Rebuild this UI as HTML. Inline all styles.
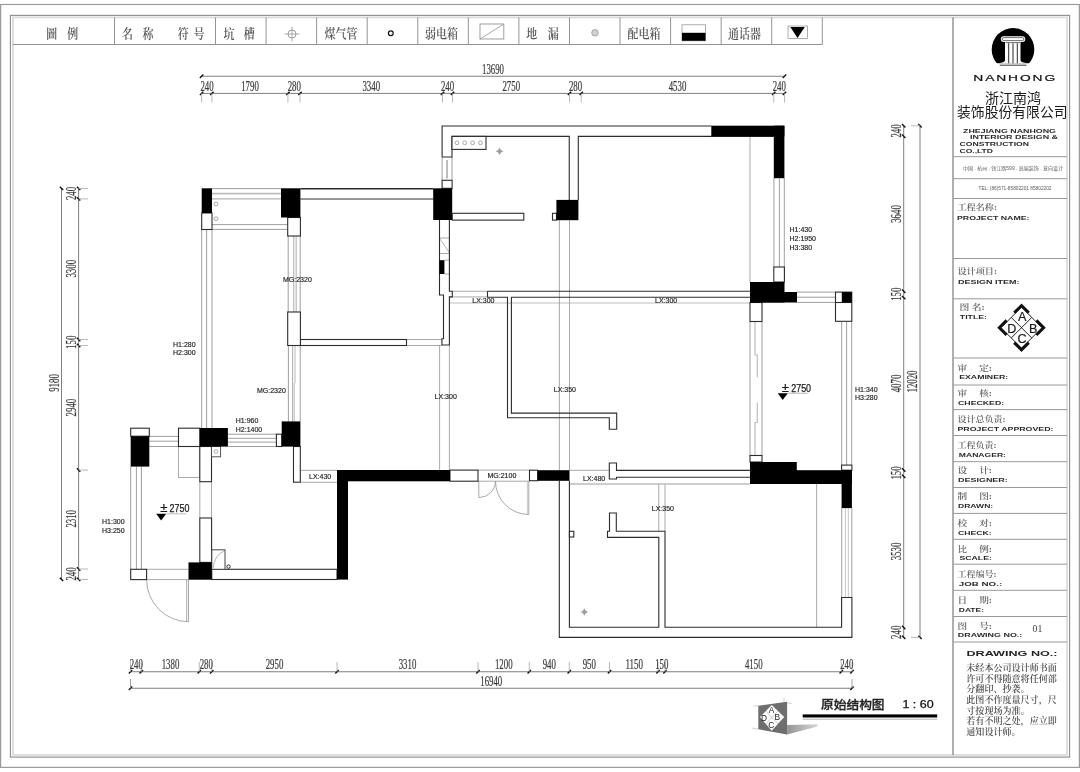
<!DOCTYPE html>
<html lang="zh-CN"><head><meta charset="utf-8"><title>原始结构图</title>
<style>
html,body{margin:0;padding:0;background:#fff}
svg{display:block;will-change:transform}
text{font-family:"Liberation Sans","Noto Sans CJK SC",sans-serif}
.dm{font-family:"Liberation Serif",serif;font-size:13.9px;fill:#3a3a3a;stroke:#3a3a3a;stroke-width:0.22px}
.lb{font-size:7px;fill:#1a1a1a;stroke:#1a1a1a;stroke-width:0.15px}
.lv{font-size:10.5px;fill:#1a1a1a;stroke:#1a1a1a;stroke-width:0.25px}
.pm{font-size:12px;fill:#1a1a1a;stroke:#1a1a1a;stroke-width:0.2px}
.lg{font-family:"Liberation Serif","Noto Serif CJK SC",serif;font-size:12.6px;font-weight:600;fill:#555}
.tc{font-family:"Liberation Serif","Noto Serif CJK SC",serif;font-size:8.2px;font-weight:600;fill:#626262}
.pc{font-family:"Liberation Serif","Noto Serif CJK SC",serif;font-size:9px;font-weight:600;fill:#4c4c4c}
.en{font-size:5.4px;font-weight:bold;fill:#2a2a2a}
.en2{font-size:8.1px;font-weight:bold;fill:#222}
.nh{font-size:9.2px;fill:#111;stroke:#111;stroke-width:0.2px}
.cn14{font-size:14px;fill:#1a1a1a}
.tiny{font-size:4.5px;fill:#5a5a5a}
.n01{font-family:"Liberation Serif",serif;font-size:10.4px;fill:#444}
.abcd{font-size:12.6px;fill:#1a1a1a;stroke:#1a1a1a;stroke-width:0.2px}
.ab2{font-size:8.4px;fill:#222}
.ttl{font-size:11.8px;fill:#222;font-weight:500;stroke:#222;stroke-width:0.3px}
.sc{font-size:10.2px;fill:#111;stroke:#111;stroke-width:0.25px}
</style></head>
<body>
<svg width="1080" height="772" viewBox="0 0 1080 772">
<rect x="0" y="0" width="1080" height="772" fill="#fff"/>
<rect x="0.6" y="4.5" width="1078.8" height="762.9" fill="none" stroke="#9c9c9c" stroke-width="1.2"/>
<rect x="10.4" y="15.4" width="1059.2" height="741.7" fill="none" stroke="#8c8c8c" stroke-width="1.1"/>
<rect x="13" y="17.4" width="1054" height="737.6" fill="none" stroke="#d8d8d8" stroke-width="1.6"/>
<line x1="13" y1="44.5" x2="822.3" y2="44.5" stroke="#949494" stroke-width="1"/>
<line x1="114.5" y1="17.4" x2="114.5" y2="44.5" stroke="#949494" stroke-width="1"/>
<line x1="215.5" y1="17.4" x2="215.5" y2="44.5" stroke="#949494" stroke-width="1"/>
<line x1="266.07" y1="17.4" x2="266.07" y2="44.5" stroke="#949494" stroke-width="1"/>
<line x1="316.63" y1="17.4" x2="316.63" y2="44.5" stroke="#949494" stroke-width="1"/>
<line x1="367.2" y1="17.4" x2="367.2" y2="44.5" stroke="#949494" stroke-width="1"/>
<line x1="417.77" y1="17.4" x2="417.77" y2="44.5" stroke="#949494" stroke-width="1"/>
<line x1="468.33" y1="17.4" x2="468.33" y2="44.5" stroke="#949494" stroke-width="1"/>
<line x1="518.9" y1="17.4" x2="518.9" y2="44.5" stroke="#949494" stroke-width="1"/>
<line x1="569.47" y1="17.4" x2="569.47" y2="44.5" stroke="#949494" stroke-width="1"/>
<line x1="620.03" y1="17.4" x2="620.03" y2="44.5" stroke="#949494" stroke-width="1"/>
<line x1="670.6" y1="17.4" x2="670.6" y2="44.5" stroke="#949494" stroke-width="1"/>
<line x1="721.17" y1="17.4" x2="721.17" y2="44.5" stroke="#949494" stroke-width="1"/>
<line x1="771.73" y1="17.4" x2="771.73" y2="44.5" stroke="#949494" stroke-width="1"/>
<line x1="822.3" y1="17.4" x2="822.3" y2="44.5" stroke="#949494" stroke-width="1"/>
<text transform="translate(46.3,37.9) scale(0.87,1)" class="lg">圖</text>
<text transform="translate(67.2,37.9) scale(0.87,1)" class="lg">例</text>
<text transform="translate(122,37.9) scale(0.87,1)" class="lg">名</text>
<text transform="translate(142.5,37.9) scale(0.87,1)" class="lg">称</text>
<text transform="translate(177.8,37.9) scale(0.87,1)" class="lg">符</text>
<text transform="translate(193.6,37.9) scale(0.87,1)" class="lg">号</text>
<text transform="translate(223.6,37.9) scale(0.87,1)" class="lg">坑</text>
<text transform="translate(243.8,37.9) scale(0.87,1)" class="lg">槽</text>
<text transform="translate(324.5,37.9) scale(0.87,1)" class="lg">煤气管</text>
<text transform="translate(425,37.9) scale(0.87,1)" class="lg">弱电箱</text>
<text transform="translate(526.3,37.9) scale(0.87,1)" class="lg">地</text>
<text transform="translate(547.7,37.9) scale(0.87,1)" class="lg">漏</text>
<text transform="translate(627.5,37.9) scale(0.87,1)" class="lg">配电箱</text>
<text transform="translate(728,37.9) scale(0.87,1)" class="lg">通话器</text>
<circle cx="292" cy="34" r="4" fill="none" stroke="#949494" stroke-width="0.9"/>
<line x1="284.5" y1="34" x2="299.5" y2="34" stroke="#949494" stroke-width="0.8"/>
<line x1="292" y1="26.5" x2="292" y2="41.5" stroke="#949494" stroke-width="0.8"/>
<circle cx="390.8" cy="33.3" r="2.4" fill="none" stroke="#111" stroke-width="1.2"/>
<rect x="480" y="24" width="23.8" height="15" fill="#fff" stroke="#949494" stroke-width="0.9"/>
<line x1="480" y1="39" x2="503.8" y2="24" stroke="#949494" stroke-width="0.8"/>
<circle cx="595" cy="32.8" r="3.3" fill="#d0d0d0" stroke="#999" stroke-width="0.8"/>
<rect x="682" y="24.8" width="23.5" height="16.0" fill="#fff" stroke="#999" stroke-width="0.8"/>
<rect x="682" y="32.8" width="23.5" height="8.0" fill="#000"/>
<rect x="788" y="26" width="19.5" height="12.4" fill="#fff" stroke="#999" stroke-width="0.8"/>
<polygon points="790.3,27 804.8,27 797.5,38" fill="#000"/>
<line x1="953" y1="17.4" x2="953" y2="755" stroke="#7a7a7a" stroke-width="1.2"/>
<line x1="953" y1="156.7" x2="1067" y2="156.7" stroke="#999" stroke-width="1"/>
<line x1="953" y1="178.7" x2="1067" y2="178.7" stroke="#999" stroke-width="1"/>
<line x1="953" y1="198.5" x2="1067" y2="198.5" stroke="#999" stroke-width="1"/>
<line x1="953" y1="258.5" x2="1067" y2="258.5" stroke="#999" stroke-width="1"/>
<line x1="953" y1="298.8" x2="1067" y2="298.8" stroke="#999" stroke-width="1"/>
<line x1="953" y1="358" x2="1067" y2="358" stroke="#999" stroke-width="1"/>
<line x1="953" y1="385" x2="1067" y2="385" stroke="#999" stroke-width="1"/>
<line x1="953" y1="409.6" x2="1067" y2="409.6" stroke="#999" stroke-width="1"/>
<line x1="953" y1="435.5" x2="1067" y2="435.5" stroke="#999" stroke-width="1"/>
<line x1="953" y1="461.7" x2="1067" y2="461.7" stroke="#999" stroke-width="1"/>
<line x1="953" y1="487.5" x2="1067" y2="487.5" stroke="#999" stroke-width="1"/>
<line x1="953" y1="513.4" x2="1067" y2="513.4" stroke="#999" stroke-width="1"/>
<line x1="953" y1="539.3" x2="1067" y2="539.3" stroke="#999" stroke-width="1"/>
<line x1="953" y1="564.2" x2="1067" y2="564.2" stroke="#999" stroke-width="1"/>
<line x1="953" y1="590.3" x2="1067" y2="590.3" stroke="#999" stroke-width="1"/>
<line x1="953" y1="616.5" x2="1067" y2="616.5" stroke="#999" stroke-width="1"/>
<line x1="953" y1="642" x2="1067" y2="642" stroke="#999" stroke-width="1"/>
<clipPath id="lc"><rect x="985" y="25" width="56" height="38.3"/></clipPath>
<circle cx="1013" cy="49.4" r="21.3" fill="#000" clip-path="url(#lc)"/>
<line x1="999.7" y1="65.2" x2="1026.4" y2="65.2" stroke="#222" stroke-width="0.9"/>
<rect x="1000.8" y="36.2" width="24.5" height="5.8" rx="2.9" fill="#fff"/>
<rect x="1002.2" y="37.6" width="21.7" height="3" rx="1.5" fill="none" stroke="#111" stroke-width="0.6"/>
<path d="M1005,42 L1020.5,42 L1020.5,60.6 Q1021,62.8 1027.5,63.3 L998.5,63.3 Q1004.5,62.8 1005,60.6 Z" fill="#fff"/>
<line x1="1008.7" y1="43.2" x2="1008.7" y2="63.3" stroke="#111" stroke-width="0.9"/>
<line x1="1013" y1="43.2" x2="1013" y2="63.3" stroke="#111" stroke-width="0.9"/>
<line x1="1017.3" y1="43.2" x2="1017.3" y2="63.3" stroke="#111" stroke-width="0.9"/>
<line x1="1005.5" y1="42.6" x2="1020" y2="42.6" stroke="#111" stroke-width="0.6"/>
<text transform="translate(973.3,81) scale(1.5,1)" class="nh" textLength="54.6" lengthAdjust="spacing">NANHONG</text>
<text x="1013" y="102.6" class="cn14" text-anchor="middle" textLength="56" lengthAdjust="spacingAndGlyphs">浙江南鸿</text>
<text x="1012.3" y="117.3" class="cn14" text-anchor="middle" textLength="110.5" lengthAdjust="spacingAndGlyphs">装饰股份有限公司</text>
<text x="963" y="132.7" class="en" text-anchor="start" textLength="93" lengthAdjust="spacingAndGlyphs">ZHEJIANG NANHONG</text>
<text x="970" y="139.4" class="en" text-anchor="start" textLength="88" lengthAdjust="spacingAndGlyphs">INTERIOR DESIGN &amp;</text>
<text x="959.5" y="146.1" class="en" text-anchor="start" textLength="69.5" lengthAdjust="spacingAndGlyphs">CONSTRUCTION</text>
<text x="959.5" y="152.8" class="en" text-anchor="start" textLength="33.5" lengthAdjust="spacingAndGlyphs">CO.,LTD</text>
<text x="1013" y="170" class="tiny" text-anchor="middle" textLength="100" lengthAdjust="spacingAndGlyphs">中国 . 杭州 . 钱江路599 . 高端装饰 . 意向设计</text>
<text x="1015" y="190" class="tiny" text-anchor="middle" textLength="73" lengthAdjust="spacingAndGlyphs">TEL: (86)571-85802201  85802202</text>
<text x="957.5" y="210.3" class="tc" text-anchor="start" textLength="39.5" lengthAdjust="spacingAndGlyphs" xml:space="preserve">工程名称:</text>
<text x="957" y="219.9" class="en" text-anchor="start" textLength="72.5" lengthAdjust="spacingAndGlyphs">PROJECT NAME:</text>
<text x="957.5" y="273.7" class="tc" text-anchor="start" textLength="39.5" lengthAdjust="spacingAndGlyphs" xml:space="preserve">设计项目:</text>
<text x="958" y="283.5" class="en" text-anchor="start" textLength="61.5" lengthAdjust="spacingAndGlyphs">DESIGN ITEM:</text>
<text x="959.4" y="309.9" class="tc" text-anchor="start" textLength="25.5" lengthAdjust="spacingAndGlyphs" xml:space="preserve">图 名:</text>
<text x="959.8" y="319.09999999999997" class="en" text-anchor="start" textLength="27.2" lengthAdjust="spacingAndGlyphs">TITLE:</text>
<text x="957.5" y="370.5" class="tc" text-anchor="start" textLength="34.5" lengthAdjust="spacingAndGlyphs" xml:space="preserve">审　 定:</text>
<text x="959.2" y="379.4" class="en" text-anchor="start" textLength="49" lengthAdjust="spacingAndGlyphs">EXAMINER:</text>
<text x="957.5" y="396.1" class="tc" text-anchor="start" textLength="34.5" lengthAdjust="spacingAndGlyphs" xml:space="preserve">审　 核:</text>
<text x="958" y="405.2" class="en" text-anchor="start" textLength="46.2" lengthAdjust="spacingAndGlyphs">CHECKED:</text>
<text x="957.5" y="421.6" class="tc" text-anchor="start" textLength="48" lengthAdjust="spacingAndGlyphs" xml:space="preserve">设计总负责:</text>
<text x="957.5" y="430.9" class="en" text-anchor="start" textLength="96" lengthAdjust="spacingAndGlyphs">PROJECT APPROVED:</text>
<text x="957.5" y="447.5" class="tc" text-anchor="start" textLength="39" lengthAdjust="spacingAndGlyphs" xml:space="preserve">工程负责:</text>
<text x="958.8" y="456.7" class="en" text-anchor="start" textLength="47.2" lengthAdjust="spacingAndGlyphs">MANAGER:</text>
<text x="957.5" y="473.3" class="tc" text-anchor="start" textLength="34.5" lengthAdjust="spacingAndGlyphs" xml:space="preserve">设　 计:</text>
<text x="958" y="482.29999999999995" class="en" text-anchor="start" textLength="49.8" lengthAdjust="spacingAndGlyphs">DESIGNER:</text>
<text x="957.5" y="499.3" class="tc" text-anchor="start" textLength="34.5" lengthAdjust="spacingAndGlyphs" xml:space="preserve">制　 图:</text>
<text x="958" y="508.29999999999995" class="en" text-anchor="start" textLength="35.2" lengthAdjust="spacingAndGlyphs">DRAWN:</text>
<text x="957.5" y="525.6" class="tc" text-anchor="start" textLength="34.5" lengthAdjust="spacingAndGlyphs" xml:space="preserve">校　 对:</text>
<text x="958" y="534.5" class="en" text-anchor="start" textLength="33.6" lengthAdjust="spacingAndGlyphs">CHECK:</text>
<text x="957.5" y="551.5" class="tc" text-anchor="start" textLength="34.5" lengthAdjust="spacingAndGlyphs" xml:space="preserve">比　 例:</text>
<text x="959.4" y="560.0" class="en" text-anchor="start" textLength="32.5" lengthAdjust="spacingAndGlyphs">SCALE:</text>
<text x="957.5" y="577.1" class="tc" text-anchor="start" textLength="39" lengthAdjust="spacingAndGlyphs" xml:space="preserve">工程编号:</text>
<text x="958.8" y="585.9" class="en" text-anchor="start" textLength="43.4" lengthAdjust="spacingAndGlyphs">JOB  NO.:</text>
<text x="957.5" y="603.0" class="tc" text-anchor="start" textLength="34.5" lengthAdjust="spacingAndGlyphs" xml:space="preserve">日　 期:</text>
<text x="958.8" y="611.9" class="en" text-anchor="start" textLength="25.2" lengthAdjust="spacingAndGlyphs">DATE:</text>
<text x="957.5" y="628.5" class="tc" text-anchor="start" textLength="34.5" lengthAdjust="spacingAndGlyphs" xml:space="preserve">图　 号:</text>
<text x="957.8" y="637.4" class="en" text-anchor="start" textLength="64.5" lengthAdjust="spacingAndGlyphs">DRAWING NO.:</text>
<text x="1037.5" y="631.8" class="n01" text-anchor="middle" textLength="9.8" lengthAdjust="spacingAndGlyphs">01</text>
<text x="1012" y="656" class="en2" text-anchor="middle" textLength="91" lengthAdjust="spacingAndGlyphs">DRAWING NO.:</text>
<text x="966.3" y="671.2" class="pc" text-anchor="start" textLength="90.5" lengthAdjust="spacingAndGlyphs">未经本公司设计师书面</text>
<text x="966.3" y="681.78" class="pc" text-anchor="start" textLength="90.5" lengthAdjust="spacingAndGlyphs">许可不得随意将任何部</text>
<text x="966.3" y="692.36" class="pc" text-anchor="start" textLength="63.4" lengthAdjust="spacingAndGlyphs">分翻印、抄袭。</text>
<text x="966.3" y="702.94" class="pc" text-anchor="start" textLength="90.5" lengthAdjust="spacingAndGlyphs">此图不作度量尺寸，尺</text>
<text x="966.3" y="713.52" class="pc" text-anchor="start" textLength="63.4" lengthAdjust="spacingAndGlyphs">寸按现场为准。</text>
<text x="966.3" y="724.1" class="pc" text-anchor="start" textLength="90.5" lengthAdjust="spacingAndGlyphs">若有不明之处，应立即</text>
<text x="966.3" y="734.68" class="pc" text-anchor="start" textLength="54.3" lengthAdjust="spacingAndGlyphs">通知设计师。</text>
<polygon points="1021.5,307.2 1042.0,327.7 1021.5,348.2 1001.0,327.7" fill="#fff" stroke="#222" stroke-width="1"/>
<line x1="1011.25" y1="317.45" x2="1031.75" y2="337.95" stroke="#222" stroke-width="1"/>
<line x1="1011.25" y1="337.95" x2="1031.75" y2="317.45" stroke="#222" stroke-width="1"/>
<polyline points="1014.2,312.8 1021.5,305.5 1028.8,312.8" fill="none" stroke="#111" stroke-width="2.9" stroke-linejoin="miter"/>
<polyline points="1036.4,320.4 1043.7,327.7 1036.4,335.0" fill="none" stroke="#111" stroke-width="2.9" stroke-linejoin="miter"/>
<polyline points="1014.2,342.59999999999997 1021.5,349.9 1028.8,342.59999999999997" fill="none" stroke="#111" stroke-width="2.9" stroke-linejoin="miter"/>
<polyline points="1006.5999999999999,320.4 999.3,327.7 1006.5999999999999,335.0" fill="none" stroke="#111" stroke-width="2.9" stroke-linejoin="miter"/>
<text x="1022.2" y="321.0" class="abcd" text-anchor="middle">A</text>
<text x="1033.2" y="332.5" class="abcd" text-anchor="middle">B</text>
<text x="1022" y="342.5" class="abcd" text-anchor="middle">C</text>
<text x="1011.8" y="332.5" class="abcd" text-anchor="middle">D</text>
<defs><linearGradient id="sh" x1="0" x2="1"><stop offset="0" stop-color="#959595"/><stop offset="1" stop-color="#d8d8d8"/></linearGradient></defs>
<polygon points="758.3,705.8 787.1,701.7 787.1,734.6 758.3,729.2" fill="#6e6e6e"/>
<polygon points="787.1,725 818.3,724.2 816.7,726.7 787.1,734.6" fill="url(#sh)"/>
<polygon points="771.7,705 784.2,717.1 771.7,730.8 760,717.1" fill="#fff"/>
<line x1="765.8" y1="711" x2="778" y2="724" stroke="#999" stroke-width="0.5"/>
<line x1="765.8" y1="724" x2="778" y2="711" stroke="#999" stroke-width="0.5"/>
<line x1="753" y1="706" x2="758.3" y2="705.8" stroke="#bdbdbd" stroke-width="0.7"/>
<line x1="784" y1="698.3" x2="784" y2="702" stroke="#bdbdbd" stroke-width="0.7"/>
<line x1="787" y1="703" x2="792" y2="703.4" stroke="#bdbdbd" stroke-width="0.7"/>
<line x1="752" y1="728" x2="758.3" y2="729.2" stroke="#bdbdbd" stroke-width="0.7"/>
<text x="771.6" y="712.8" class="ab2" text-anchor="middle">A</text>
<text x="777.2" y="720.3" class="ab2" text-anchor="middle">B</text>
<text x="771.4" y="727.8" class="ab2" text-anchor="middle">C</text>
<text x="764" y="720.6" class="ab2" text-anchor="middle">D</text>
<text x="821" y="709.2" class="ttl" text-anchor="start" textLength="63.6" lengthAdjust="spacingAndGlyphs">原始结构图</text>
<text x="902.4" y="707.9" class="sc" text-anchor="start" textLength="31.2" lengthAdjust="spacingAndGlyphs">1 : 60</text>
<rect x="802.7" y="714.4" width="134.5" height="3.1" fill="#000"/>
<line x1="802.7" y1="719.2" x2="937.2" y2="719.2" stroke="#999" stroke-width="0.8"/>
<line x1="201.6" y1="76.25" x2="784.5" y2="76.25" stroke="#707070" stroke-width="0.9"/>
<line x1="201.6" y1="93.4" x2="784.5" y2="93.4" stroke="#707070" stroke-width="0.9"/>
<line x1="199.9" y1="77.95" x2="203.29999999999998" y2="74.55" stroke="#111" stroke-width="1.4"/>
<line x1="782.8" y1="77.95" x2="786.2" y2="74.55" stroke="#111" stroke-width="1.4"/>
<line x1="199.9" y1="95.1" x2="203.29999999999998" y2="91.7" stroke="#111" stroke-width="1.4"/>
<line x1="201.6" y1="93.4" x2="201.6" y2="102.5" stroke="#a8a8a8" stroke-width="0.8"/>
<line x1="210.20000000000002" y1="95.1" x2="213.6" y2="91.7" stroke="#111" stroke-width="1.4"/>
<line x1="211.9" y1="93.4" x2="211.9" y2="102.5" stroke="#a8a8a8" stroke-width="0.8"/>
<line x1="286.2" y1="95.1" x2="289.59999999999997" y2="91.7" stroke="#111" stroke-width="1.4"/>
<line x1="287.9" y1="93.4" x2="287.9" y2="102.5" stroke="#a8a8a8" stroke-width="0.8"/>
<line x1="298.3" y1="95.1" x2="301.7" y2="91.7" stroke="#111" stroke-width="1.4"/>
<line x1="300" y1="93.4" x2="300" y2="102.5" stroke="#a8a8a8" stroke-width="0.8"/>
<line x1="440.8" y1="95.1" x2="444.2" y2="91.7" stroke="#111" stroke-width="1.4"/>
<line x1="442.5" y1="93.4" x2="442.5" y2="102.5" stroke="#a8a8a8" stroke-width="0.8"/>
<line x1="450.8" y1="95.1" x2="454.2" y2="91.7" stroke="#111" stroke-width="1.4"/>
<line x1="452.5" y1="93.4" x2="452.5" y2="102.5" stroke="#a8a8a8" stroke-width="0.8"/>
<line x1="567.8" y1="95.1" x2="571.2" y2="91.7" stroke="#111" stroke-width="1.4"/>
<line x1="569.5" y1="93.4" x2="569.5" y2="102.5" stroke="#a8a8a8" stroke-width="0.8"/>
<line x1="579.55" y1="95.1" x2="582.95" y2="91.7" stroke="#111" stroke-width="1.4"/>
<line x1="581.25" y1="93.4" x2="581.25" y2="102.5" stroke="#a8a8a8" stroke-width="0.8"/>
<line x1="772.05" y1="95.1" x2="775.45" y2="91.7" stroke="#111" stroke-width="1.4"/>
<line x1="773.75" y1="93.4" x2="773.75" y2="102.5" stroke="#a8a8a8" stroke-width="0.8"/>
<line x1="782.8" y1="95.1" x2="786.2" y2="91.7" stroke="#111" stroke-width="1.4"/>
<line x1="784.5" y1="93.4" x2="784.5" y2="102.5" stroke="#a8a8a8" stroke-width="0.8"/>
<text x="493" y="74.05000000000001" class="dm" text-anchor="middle" textLength="22.0" lengthAdjust="spacingAndGlyphs">13690</text>
<text x="207" y="90.9" class="dm" text-anchor="middle" textLength="13.2" lengthAdjust="spacingAndGlyphs">240</text>
<text x="250" y="90.9" class="dm" text-anchor="middle" textLength="17.6" lengthAdjust="spacingAndGlyphs">1790</text>
<text x="294.25" y="90.9" class="dm" text-anchor="middle" textLength="13.2" lengthAdjust="spacingAndGlyphs">280</text>
<text x="371.25" y="90.9" class="dm" text-anchor="middle" textLength="17.6" lengthAdjust="spacingAndGlyphs">3340</text>
<text x="447.5" y="90.9" class="dm" text-anchor="middle" textLength="13.2" lengthAdjust="spacingAndGlyphs">240</text>
<text x="511.25" y="90.9" class="dm" text-anchor="middle" textLength="17.6" lengthAdjust="spacingAndGlyphs">2750</text>
<text x="575.5" y="90.9" class="dm" text-anchor="middle" textLength="13.2" lengthAdjust="spacingAndGlyphs">280</text>
<text x="677.5" y="90.9" class="dm" text-anchor="middle" textLength="17.6" lengthAdjust="spacingAndGlyphs">4530</text>
<text x="779.25" y="90.9" class="dm" text-anchor="middle" textLength="13.2" lengthAdjust="spacingAndGlyphs">240</text>
<line x1="130.5" y1="671.75" x2="852" y2="671.75" stroke="#707070" stroke-width="0.9"/>
<line x1="130.5" y1="688.25" x2="852" y2="688.25" stroke="#707070" stroke-width="0.9"/>
<line x1="128.8" y1="673.45" x2="132.2" y2="670.05" stroke="#111" stroke-width="1.4"/>
<line x1="130.5" y1="662" x2="130.5" y2="671.75" stroke="#a8a8a8" stroke-width="0.8"/>
<line x1="139.55" y1="673.45" x2="142.95" y2="670.05" stroke="#111" stroke-width="1.4"/>
<line x1="141.25" y1="662" x2="141.25" y2="671.75" stroke="#a8a8a8" stroke-width="0.8"/>
<line x1="197.55" y1="673.45" x2="200.95" y2="670.05" stroke="#111" stroke-width="1.4"/>
<line x1="199.25" y1="662" x2="199.25" y2="671.75" stroke="#a8a8a8" stroke-width="0.8"/>
<line x1="210.05" y1="673.45" x2="213.45" y2="670.05" stroke="#111" stroke-width="1.4"/>
<line x1="211.75" y1="662" x2="211.75" y2="671.75" stroke="#a8a8a8" stroke-width="0.8"/>
<line x1="335.3" y1="673.45" x2="338.7" y2="670.05" stroke="#111" stroke-width="1.4"/>
<line x1="337" y1="662" x2="337" y2="671.75" stroke="#a8a8a8" stroke-width="0.8"/>
<line x1="476.3" y1="673.45" x2="479.7" y2="670.05" stroke="#111" stroke-width="1.4"/>
<line x1="478" y1="662" x2="478" y2="671.75" stroke="#a8a8a8" stroke-width="0.8"/>
<line x1="527.55" y1="673.45" x2="530.95" y2="670.05" stroke="#111" stroke-width="1.4"/>
<line x1="529.25" y1="662" x2="529.25" y2="671.75" stroke="#a8a8a8" stroke-width="0.8"/>
<line x1="567.55" y1="673.45" x2="570.95" y2="670.05" stroke="#111" stroke-width="1.4"/>
<line x1="569.25" y1="662" x2="569.25" y2="671.75" stroke="#a8a8a8" stroke-width="0.8"/>
<line x1="607.8" y1="673.45" x2="611.2" y2="670.05" stroke="#111" stroke-width="1.4"/>
<line x1="609.5" y1="662" x2="609.5" y2="671.75" stroke="#a8a8a8" stroke-width="0.8"/>
<line x1="656.3" y1="673.45" x2="659.7" y2="670.05" stroke="#111" stroke-width="1.4"/>
<line x1="658" y1="662" x2="658" y2="671.75" stroke="#a8a8a8" stroke-width="0.8"/>
<line x1="663.3" y1="673.45" x2="666.7" y2="670.05" stroke="#111" stroke-width="1.4"/>
<line x1="665" y1="662" x2="665" y2="671.75" stroke="#a8a8a8" stroke-width="0.8"/>
<line x1="839.55" y1="673.45" x2="842.95" y2="670.05" stroke="#111" stroke-width="1.4"/>
<line x1="841.25" y1="662" x2="841.25" y2="671.75" stroke="#a8a8a8" stroke-width="0.8"/>
<line x1="850.3" y1="673.45" x2="853.7" y2="670.05" stroke="#111" stroke-width="1.4"/>
<line x1="852" y1="662" x2="852" y2="671.75" stroke="#a8a8a8" stroke-width="0.8"/>
<line x1="128.8" y1="689.95" x2="132.2" y2="686.55" stroke="#111" stroke-width="1.4"/>
<line x1="130.5" y1="679" x2="130.5" y2="688.25" stroke="#888" stroke-width="0.8"/>
<line x1="850.3" y1="689.95" x2="853.7" y2="686.55" stroke="#111" stroke-width="1.4"/>
<line x1="852" y1="679" x2="852" y2="688.25" stroke="#888" stroke-width="0.8"/>
<text x="136.25" y="668.9" class="dm" text-anchor="middle" textLength="13.2" lengthAdjust="spacingAndGlyphs">240</text>
<text x="170.5" y="668.9" class="dm" text-anchor="middle" textLength="17.6" lengthAdjust="spacingAndGlyphs">1380</text>
<text x="206.25" y="668.9" class="dm" text-anchor="middle" textLength="13.2" lengthAdjust="spacingAndGlyphs">280</text>
<text x="274.5" y="668.9" class="dm" text-anchor="middle" textLength="17.6" lengthAdjust="spacingAndGlyphs">2950</text>
<text x="407.5" y="668.9" class="dm" text-anchor="middle" textLength="17.6" lengthAdjust="spacingAndGlyphs">3310</text>
<text x="503.75" y="668.9" class="dm" text-anchor="middle" textLength="17.6" lengthAdjust="spacingAndGlyphs">1200</text>
<text x="549.25" y="668.9" class="dm" text-anchor="middle" textLength="13.2" lengthAdjust="spacingAndGlyphs">940</text>
<text x="589.25" y="668.9" class="dm" text-anchor="middle" textLength="13.2" lengthAdjust="spacingAndGlyphs">950</text>
<text x="634.25" y="668.9" class="dm" text-anchor="middle" textLength="17.6" lengthAdjust="spacingAndGlyphs">1150</text>
<text x="661.75" y="668.9" class="dm" text-anchor="middle" textLength="13.2" lengthAdjust="spacingAndGlyphs">150</text>
<text x="753.75" y="668.9" class="dm" text-anchor="middle" textLength="17.6" lengthAdjust="spacingAndGlyphs">4150</text>
<text x="846.75" y="668.9" class="dm" text-anchor="middle" textLength="13.2" lengthAdjust="spacingAndGlyphs">240</text>
<text x="491.25" y="685.9" class="dm" text-anchor="middle" textLength="22.0" lengthAdjust="spacingAndGlyphs">16940</text>
<line x1="61.5" y1="188.4" x2="61.5" y2="579.4" stroke="#707070" stroke-width="0.9"/>
<line x1="78.6" y1="188.4" x2="78.6" y2="579.4" stroke="#707070" stroke-width="0.9"/>
<line x1="59.8" y1="186.7" x2="63.2" y2="190.1" stroke="#111" stroke-width="1.4"/>
<line x1="59.8" y1="577.7" x2="63.2" y2="581.1" stroke="#111" stroke-width="1.4"/>
<line x1="76.89999999999999" y1="186.7" x2="80.3" y2="190.1" stroke="#111" stroke-width="1.4"/>
<line x1="78.6" y1="188.4" x2="88" y2="188.4" stroke="#b0b0b0" stroke-width="0.9"/>
<line x1="76.89999999999999" y1="197.2" x2="80.3" y2="200.6" stroke="#111" stroke-width="1.4"/>
<line x1="78.6" y1="198.9" x2="88" y2="198.9" stroke="#b0b0b0" stroke-width="0.9"/>
<line x1="76.89999999999999" y1="337.8" x2="80.3" y2="341.2" stroke="#111" stroke-width="1.4"/>
<line x1="78.6" y1="339.5" x2="88" y2="339.5" stroke="#b0b0b0" stroke-width="0.9"/>
<line x1="76.89999999999999" y1="343.8" x2="80.3" y2="347.2" stroke="#111" stroke-width="1.4"/>
<line x1="78.6" y1="345.5" x2="88" y2="345.5" stroke="#b0b0b0" stroke-width="0.9"/>
<line x1="76.89999999999999" y1="468.3" x2="80.3" y2="471.7" stroke="#111" stroke-width="1.4"/>
<line x1="78.6" y1="470" x2="88" y2="470" stroke="#b0b0b0" stroke-width="0.9"/>
<line x1="76.89999999999999" y1="567.3" x2="80.3" y2="570.7" stroke="#111" stroke-width="1.4"/>
<line x1="78.6" y1="569" x2="88" y2="569" stroke="#b0b0b0" stroke-width="0.9"/>
<line x1="76.89999999999999" y1="577.7" x2="80.3" y2="581.1" stroke="#111" stroke-width="1.4"/>
<line x1="78.6" y1="579.4" x2="88" y2="579.4" stroke="#b0b0b0" stroke-width="0.9"/>
<text transform="translate(71,193.5) rotate(-90)" x="0" y="4.65" class="dm" text-anchor="middle" textLength="13.2" lengthAdjust="spacingAndGlyphs">240</text>
<text transform="translate(71,268.75) rotate(-90)" x="0" y="4.65" class="dm" text-anchor="middle" textLength="17.6" lengthAdjust="spacingAndGlyphs">3300</text>
<text transform="translate(71,342.3) rotate(-90)" x="0" y="4.65" class="dm" text-anchor="middle" textLength="13.2" lengthAdjust="spacingAndGlyphs">150</text>
<text transform="translate(71,407.6) rotate(-90)" x="0" y="4.65" class="dm" text-anchor="middle" textLength="17.6" lengthAdjust="spacingAndGlyphs">2940</text>
<text transform="translate(71,518.8) rotate(-90)" x="0" y="4.65" class="dm" text-anchor="middle" textLength="17.6" lengthAdjust="spacingAndGlyphs">2310</text>
<text transform="translate(71,574) rotate(-90)" x="0" y="4.65" class="dm" text-anchor="middle" textLength="13.2" lengthAdjust="spacingAndGlyphs">240</text>
<text transform="translate(54.6,383) rotate(-90)" x="0" y="4.65" class="dm" text-anchor="middle" textLength="17.6" lengthAdjust="spacingAndGlyphs">9180</text>
<line x1="903.7" y1="125.75" x2="903.7" y2="637.4" stroke="#707070" stroke-width="0.9"/>
<line x1="920" y1="125.75" x2="920" y2="637.4" stroke="#707070" stroke-width="0.9"/>
<line x1="902.0" y1="124.05" x2="905.4000000000001" y2="127.45" stroke="#111" stroke-width="1.4"/>
<line x1="902.0" y1="134.6" x2="905.4000000000001" y2="138.0" stroke="#111" stroke-width="1.4"/>
<line x1="902.0" y1="289.55" x2="905.4000000000001" y2="292.95" stroke="#111" stroke-width="1.4"/>
<line x1="902.0" y1="295.9" x2="905.4000000000001" y2="299.3" stroke="#111" stroke-width="1.4"/>
<line x1="902.0" y1="468.3" x2="905.4000000000001" y2="471.7" stroke="#111" stroke-width="1.4"/>
<line x1="902.0" y1="474.7" x2="905.4000000000001" y2="478.1" stroke="#111" stroke-width="1.4"/>
<line x1="902.0" y1="625.8" x2="905.4000000000001" y2="629.2" stroke="#111" stroke-width="1.4"/>
<line x1="902.0" y1="635.7" x2="905.4000000000001" y2="639.1" stroke="#111" stroke-width="1.4"/>
<line x1="918.3" y1="124.05" x2="921.7" y2="127.45" stroke="#111" stroke-width="1.4"/>
<line x1="911" y1="125.75" x2="920" y2="125.75" stroke="#a8a8a8" stroke-width="0.8"/>
<line x1="918.3" y1="635.7" x2="921.7" y2="639.1" stroke="#111" stroke-width="1.4"/>
<line x1="911" y1="637.4" x2="920" y2="637.4" stroke="#a8a8a8" stroke-width="0.8"/>
<text transform="translate(896.6,131) rotate(-90)" x="0" y="4.65" class="dm" text-anchor="middle" textLength="13.2" lengthAdjust="spacingAndGlyphs">240</text>
<text transform="translate(896.6,214) rotate(-90)" x="0" y="4.65" class="dm" text-anchor="middle" textLength="17.6" lengthAdjust="spacingAndGlyphs">3640</text>
<text transform="translate(896.6,294.2) rotate(-90)" x="0" y="4.65" class="dm" text-anchor="middle" textLength="13.2" lengthAdjust="spacingAndGlyphs">150</text>
<text transform="translate(896.6,383.5) rotate(-90)" x="0" y="4.65" class="dm" text-anchor="middle" textLength="17.6" lengthAdjust="spacingAndGlyphs">4070</text>
<text transform="translate(896.6,473) rotate(-90)" x="0" y="4.65" class="dm" text-anchor="middle" textLength="13.2" lengthAdjust="spacingAndGlyphs">150</text>
<text transform="translate(896.6,551.5) rotate(-90)" x="0" y="4.65" class="dm" text-anchor="middle" textLength="17.6" lengthAdjust="spacingAndGlyphs">3530</text>
<text transform="translate(896.6,632.3) rotate(-90)" x="0" y="4.65" class="dm" text-anchor="middle" textLength="13.2" lengthAdjust="spacingAndGlyphs">240</text>
<text transform="translate(912.3,381.5) rotate(-90)" x="0" y="4.65" class="dm" text-anchor="middle" textLength="22.0" lengthAdjust="spacingAndGlyphs">12020</text>
<line x1="201.7" y1="229.5" x2="201.7" y2="428" stroke="#949494" stroke-width="0.9"/>
<line x1="206.6" y1="229.5" x2="206.6" y2="428" stroke="#949494" stroke-width="0.9"/>
<line x1="212" y1="229.5" x2="212" y2="428" stroke="#949494" stroke-width="0.9"/>
<line x1="212" y1="188.6" x2="281" y2="188.6" stroke="#949494" stroke-width="0.9"/>
<line x1="212" y1="193.6" x2="281" y2="193.6" stroke="#bdbdbd" stroke-width="1.6"/>
<line x1="212" y1="198.9" x2="281" y2="198.9" stroke="#949494" stroke-width="0.9"/>
<line x1="212" y1="224.6" x2="287.8" y2="224.6" stroke="#949494" stroke-width="0.9"/>
<line x1="212" y1="229.4" x2="287.8" y2="229.4" stroke="#949494" stroke-width="0.9"/>
<circle cx="216" cy="203.9" r="1.9" fill="none" stroke="#949494" stroke-width="0.8"/>
<circle cx="216" cy="218.7" r="1.9" fill="none" stroke="#949494" stroke-width="0.8"/>
<line x1="288.2" y1="236" x2="288.2" y2="312" stroke="#949494" stroke-width="0.9"/>
<line x1="300.2" y1="236" x2="300.2" y2="312" stroke="#949494" stroke-width="0.9"/>
<line x1="293.8" y1="236" x2="293.8" y2="312" stroke="#949494" stroke-width="0.8"/>
<line x1="296.2" y1="236" x2="296.2" y2="312" stroke="#bdbdbd" stroke-width="1.2"/>
<line x1="288.4" y1="345.5" x2="288.4" y2="421.4" stroke="#949494" stroke-width="0.9"/>
<line x1="300.2" y1="345.5" x2="300.2" y2="421.4" stroke="#949494" stroke-width="0.9"/>
<line x1="292.6" y1="345.5" x2="292.6" y2="421.4" stroke="#949494" stroke-width="0.8"/>
<line x1="295" y1="345.5" x2="295" y2="383" stroke="#bdbdbd" stroke-width="1.1"/>
<line x1="294.2" y1="383" x2="294.2" y2="421.4" stroke="#bdbdbd" stroke-width="1.1"/>
<line x1="442.1" y1="157" x2="442.1" y2="180.3" stroke="#949494" stroke-width="0.9"/>
<line x1="452" y1="157" x2="452" y2="180.3" stroke="#949494" stroke-width="0.9"/>
<line x1="447" y1="160" x2="447" y2="178.5" stroke="#bdbdbd" stroke-width="2"/>
<line x1="439.6" y1="345" x2="439.6" y2="470" stroke="#949494" stroke-width="0.8"/>
<line x1="449.4" y1="345" x2="449.4" y2="470" stroke="#949494" stroke-width="0.8"/>
<line x1="449.4" y1="303" x2="750" y2="303" stroke="#bdbdbd" stroke-width="1.2"/>
<line x1="559.4" y1="220" x2="559.4" y2="470" stroke="#949494" stroke-width="0.8"/>
<line x1="569.5" y1="220" x2="569.5" y2="470" stroke="#949494" stroke-width="0.8"/>
<line x1="300.3" y1="470.4" x2="337" y2="470.4" stroke="#949494" stroke-width="0.8"/>
<line x1="300.3" y1="482.3" x2="337" y2="482.3" stroke="#949494" stroke-width="0.8"/>
<line x1="658.75" y1="484" x2="658.75" y2="531" stroke="#949494" stroke-width="0.8"/>
<line x1="665" y1="484" x2="665" y2="531" stroke="#949494" stroke-width="0.8"/>
<line x1="750" y1="136.3" x2="750" y2="282" stroke="#949494" stroke-width="0.8"/>
<line x1="816.6" y1="484" x2="816.6" y2="627.5" stroke="#949494" stroke-width="0.8"/>
<line x1="569.4" y1="484" x2="750" y2="484" stroke="#bdbdbd" stroke-width="1.5"/>
<line x1="569.4" y1="470.3" x2="609.25" y2="470.3" stroke="#949494" stroke-width="0.8"/>
<line x1="406.5" y1="339.5" x2="441.9" y2="339.5" stroke="#949494" stroke-width="0.8"/>
<line x1="406.5" y1="345.5" x2="441.9" y2="345.5" stroke="#949494" stroke-width="0.8"/>
<line x1="452.25" y1="291.25" x2="487.5" y2="291.25" stroke="#949494" stroke-width="0.8"/>
<line x1="449.4" y1="296.9" x2="487.5" y2="296.9" stroke="#949494" stroke-width="0.8"/>
<line x1="439.4" y1="238" x2="449.4" y2="238" stroke="#949494" stroke-width="0.8"/>
<line x1="439.4" y1="253.5" x2="449.4" y2="253.5" stroke="#949494" stroke-width="0.8"/>
<line x1="440" y1="239" x2="449.4" y2="252.5" stroke="#949494" stroke-width="0.7"/>
<line x1="444.4" y1="260.2" x2="449.4" y2="260.2" stroke="#949494" stroke-width="0.8"/>
<line x1="444.4" y1="274" x2="449.4" y2="274" stroke="#949494" stroke-width="0.8"/>
<line x1="773.9" y1="178.2" x2="773.9" y2="267" stroke="#949494" stroke-width="0.9"/>
<line x1="779.4" y1="178.2" x2="779.4" y2="267" stroke="#949494" stroke-width="0.9"/>
<line x1="784.3" y1="178.2" x2="784.3" y2="267" stroke="#949494" stroke-width="0.9"/>
<line x1="797" y1="292.1" x2="835.5" y2="292.1" stroke="#949494" stroke-width="0.9"/>
<line x1="797" y1="297.2" x2="835.5" y2="297.2" stroke="#949494" stroke-width="0.9"/>
<line x1="797" y1="302.4" x2="835.5" y2="302.4" stroke="#949494" stroke-width="0.9"/>
<line x1="841.7" y1="321.3" x2="841.7" y2="465.1" stroke="#949494" stroke-width="0.9"/>
<line x1="846.6" y1="321.3" x2="846.6" y2="465.1" stroke="#949494" stroke-width="0.9"/>
<line x1="851.7" y1="321.3" x2="851.7" y2="465.1" stroke="#949494" stroke-width="0.9"/>
<line x1="750" y1="321.5" x2="750" y2="455.5" stroke="#949494" stroke-width="0.9"/>
<line x1="762" y1="321.5" x2="762" y2="455.5" stroke="#949494" stroke-width="0.9"/>
<polyline points="755,321.5 755,355 757.3,355 757.3,377.5" fill="none" stroke="#bdbdbd" stroke-width="1.2"/>
<polyline points="757.3,402.5 757.3,422.5 755,422.5 755,455.5" fill="none" stroke="#bdbdbd" stroke-width="1.2"/>
<line x1="841.7" y1="508.1" x2="841.7" y2="597.5" stroke="#949494" stroke-width="0.9"/>
<line x1="845.4" y1="508.1" x2="845.4" y2="597.5" stroke="#bdbdbd" stroke-width="0.9"/>
<line x1="848.3" y1="508.1" x2="848.3" y2="597.5" stroke="#bdbdbd" stroke-width="0.9"/>
<line x1="851.8" y1="508.1" x2="851.8" y2="597.5" stroke="#949494" stroke-width="0.9"/>
<line x1="130.7" y1="466.6" x2="130.7" y2="569.2" stroke="#949494" stroke-width="0.9"/>
<line x1="136.4" y1="466.6" x2="136.4" y2="569.2" stroke="#949494" stroke-width="0.9"/>
<line x1="141.4" y1="466.6" x2="141.4" y2="569.2" stroke="#949494" stroke-width="0.9"/>
<line x1="149.3" y1="436.4" x2="178.5" y2="436.4" stroke="#949494" stroke-width="0.9"/>
<line x1="149.3" y1="441.2" x2="178.5" y2="441.2" stroke="#949494" stroke-width="0.9"/>
<line x1="149.3" y1="446.5" x2="178.5" y2="446.5" stroke="#949494" stroke-width="0.9"/>
<line x1="227.9" y1="434.2" x2="276.4" y2="434.2" stroke="#949494" stroke-width="0.9"/>
<line x1="227.9" y1="438.3" x2="276.4" y2="438.3" stroke="#949494" stroke-width="0.9"/>
<line x1="227.9" y1="442.1" x2="276.4" y2="442.1" stroke="#949494" stroke-width="0.9"/>
<line x1="227.9" y1="446.5" x2="276.4" y2="446.5" stroke="#949494" stroke-width="0.9"/>
<rect x="178.5" y="446.5" width="21.3" height="30.9" fill="none" stroke="#949494" stroke-width="0.8"/>
<line x1="199.8" y1="481.7" x2="199.8" y2="518" stroke="#949494" stroke-width="0.8"/>
<line x1="211.5" y1="481.7" x2="211.5" y2="518" stroke="#949494" stroke-width="0.8"/>
<line x1="146.6" y1="569.3" x2="188.5" y2="569.3" stroke="#949494" stroke-width="0.8"/>
<line x1="146.6" y1="579.6" x2="188.5" y2="579.6" stroke="#949494" stroke-width="0.8"/>
<line x1="186.7" y1="579.6" x2="186.7" y2="621.7" stroke="#949494" stroke-width="0.8"/>
<line x1="188.5" y1="579.6" x2="188.5" y2="621.7" stroke="#949494" stroke-width="0.8"/>
<path d="M146.6,579.6 A42,42 0 0 0 188.5,621.7" fill="none" stroke="#949494" stroke-width="0.8"/>
<line x1="478" y1="470.1" x2="529.5" y2="470.1" stroke="#949494" stroke-width="0.8"/>
<line x1="478" y1="481.2" x2="529.5" y2="481.2" stroke="#949494" stroke-width="0.8"/>
<line x1="478.8" y1="481.2" x2="478.8" y2="497.6" stroke="#949494" stroke-width="0.8"/>
<line x1="528.8" y1="481.2" x2="528.8" y2="514.5" stroke="#949494" stroke-width="0.8"/>
<line x1="527.4" y1="481.2" x2="527.4" y2="514.5" stroke="#bdbdbd" stroke-width="0.8"/>
<path d="M478.8,497.6 A16.6,16.6 0 0 0 495.4,481.2" fill="none" stroke="#949494" stroke-width="0.8"/>
<path d="M528.8,514.5 A33.3,33.3 0 0 1 495.5,481.2" fill="none" stroke="#949494" stroke-width="0.8"/>
<polygon points="499.6,148.70000000000002 502.20000000000005,151.3 499.6,153.9 497.0,151.3" fill="#b0b0b0" stroke="#8a8a8a" stroke-width="0.5"/>
<line x1="496.0" y1="151.3" x2="503.20000000000005" y2="151.3" stroke="#8a8a8a" stroke-width="0.6"/>
<line x1="499.6" y1="147.70000000000002" x2="499.6" y2="154.9" stroke="#8a8a8a" stroke-width="0.6"/>
<polygon points="584.3,609.4 586.9,612 584.3,614.6 581.6999999999999,612" fill="#b0b0b0" stroke="#8a8a8a" stroke-width="0.5"/>
<line x1="580.6999999999999" y1="612" x2="587.9" y2="612" stroke="#8a8a8a" stroke-width="0.6"/>
<line x1="584.3" y1="608.4" x2="584.3" y2="615.6" stroke="#8a8a8a" stroke-width="0.6"/>
<polyline points="442.1,157 442.1,126 711.3,126" fill="none" stroke="#2c2c2c" stroke-width="1.1"/>
<polyline points="442.1,157 452,157 452,136.4 569.25,136.4 569.25,200" fill="none" stroke="#2c2c2c" stroke-width="1.1"/>
<polyline points="578.3,200 578.3,136.4 773.8,136.4" fill="none" stroke="#2c2c2c" stroke-width="1.1"/>
<rect x="452" y="136.4" width="34" height="13.0" fill="#fff" stroke="#2c2c2c" stroke-width="1.1"/>
<circle cx="457" cy="142.8" r="1.9" fill="none" stroke="#949494" stroke-width="0.8"/>
<circle cx="464.7" cy="142.8" r="1.9" fill="none" stroke="#949494" stroke-width="0.8"/>
<circle cx="472.6" cy="142.8" r="1.9" fill="none" stroke="#949494" stroke-width="0.8"/>
<circle cx="480.5" cy="142.8" r="1.9" fill="none" stroke="#949494" stroke-width="0.8"/>
<rect x="442.1" y="180.3" width="10.0" height="8.0" fill="#fff" stroke="#2c2c2c" stroke-width="1.1"/>
<line x1="300.4" y1="188.7" x2="433.2" y2="188.7" stroke="#2c2c2c" stroke-width="1.5"/>
<line x1="300.4" y1="199" x2="433.2" y2="199" stroke="#2c2c2c" stroke-width="1.1"/>
<rect x="300.4" y="339.5" width="106.1" height="6.0" fill="#fff" stroke="#2c2c2c" stroke-width="1.1"/>
<rect x="452.2" y="213.3" width="71.6" height="6.8" fill="#fff" stroke="#2c2c2c" stroke-width="1.1"/>
<rect x="552.5" y="213.3" width="4.0" height="6.8" fill="#fff" stroke="#2c2c2c" stroke-width="1.1"/>
<polyline points="439.5,220 439.5,295 443.5,295 443.5,338.8 441.9,338.8 441.9,345 449.4,345 449.4,296.9 452.3,296.9 452.3,291.3 449.4,291.3 449.4,220" fill="none" stroke="#2c2c2c" stroke-width="1.1"/>
<line x1="487.5" y1="291.3" x2="750" y2="291.3" stroke="#2c2c2c" stroke-width="1.1"/>
<polyline points="487.5,291.3 487.5,297.3 507.5,297.3 507.5,417.8 609.3,417.8 609.3,429.3 616.7,429.3 616.7,413.1 511.4,413.1 511.4,297.3 750,297.3" fill="none" stroke="#2c2c2c" stroke-width="1.1"/>
<polyline points="750,470.4 616.5,470.4 616.5,463 609.3,463 609.3,479 616.5,479 616.5,477.2 750,477.2" fill="none" stroke="#2c2c2c" stroke-width="1.1"/>
<polyline points="559.3,480.7 559.3,637.4 851.9,637.4 851.9,597.5 841.6,597.5 841.6,627.2 665,627.2 665,531.3 616.3,531.3 616.3,513 609.5,513 609.5,531.3 607.5,531.3 607.5,537.4 658.8,537.4 658.8,627.2 569.4,627.2 569.4,480.7" fill="none" stroke="#2c2c2c" stroke-width="1.1"/>
<rect x="569.4" y="531.3" width="4.4" height="5.7" fill="#fff" stroke="#2c2c2c" stroke-width="1.1"/>
<rect x="211.8" y="569.3" width="125.2" height="10.2" fill="#fff" stroke="#2c2c2c" stroke-width="1.1"/>
<rect x="201.7" y="213" width="10.3" height="16.5" fill="#fff" stroke="#2c2c2c" stroke-width="1.1"/>
<rect x="287.7" y="217.5" width="12.7" height="18.5" fill="#fff" stroke="#2c2c2c" stroke-width="1.1"/>
<rect x="287.7" y="312" width="12.7" height="33.5" fill="#fff" stroke="#2c2c2c" stroke-width="1.1"/>
<rect x="773.8" y="267" width="10.6" height="15" fill="#fff" stroke="#2c2c2c" stroke-width="1.1"/>
<rect x="750" y="302.5" width="12" height="19.0" fill="#fff" stroke="#2c2c2c" stroke-width="1.1"/>
<rect x="835.5" y="292.1" width="16.3" height="29.2" fill="#fff" stroke="#2c2c2c" stroke-width="1.1"/>
<line x1="835.5" y1="302.5" x2="851.8" y2="302.5" stroke="#2c2c2c" stroke-width="1.1"/>
<rect x="130.7" y="428.2" width="18.6" height="8.0" fill="#fff" stroke="#2c2c2c" stroke-width="1.1"/>
<rect x="178.5" y="428.2" width="21.3" height="18.3" fill="#fff" stroke="#2c2c2c" stroke-width="1.1"/>
<rect x="199.8" y="446.5" width="11.7" height="35.2" fill="#fff" stroke="#2c2c2c" stroke-width="1.1"/>
<rect x="211.5" y="446.5" width="9.1" height="10.3" fill="#fff" stroke="#444" stroke-width="0.9"/>
<circle cx="215.9" cy="451.5" r="1.8" fill="none" stroke="#949494" stroke-width="0.8"/>
<rect x="276.4" y="434.2" width="5.3" height="12.3" fill="#fff" stroke="#2c2c2c" stroke-width="1.1"/>
<rect x="293.5" y="446.5" width="6.8" height="35.7" fill="#fff" stroke="#2c2c2c" stroke-width="1.1"/>
<rect x="199.8" y="518" width="11.8" height="44.4" fill="#fff" stroke="#2c2c2c" stroke-width="1.1"/>
<rect x="130.7" y="569.3" width="15.9" height="10.3" fill="#fff" stroke="#2c2c2c" stroke-width="1.1"/>
<rect x="211.8" y="549.8" width="13.2" height="19.5" fill="#fff" stroke="#444" stroke-width="1"/>
<path d="M213,568.5 Q214.5,555 224,551" fill="none" stroke="#949494" stroke-width="0.7"/>
<circle cx="228.5" cy="566.6" r="1.7" fill="none" stroke="#222" stroke-width="0.9"/>
<rect x="450" y="470.1" width="28" height="11.1" fill="#fff" stroke="#2c2c2c" stroke-width="1.1"/>
<rect x="529.5" y="470.2" width="8.1" height="10.5" fill="#fff" stroke="#2c2c2c" stroke-width="1.1"/>
<rect x="750" y="455.5" width="12" height="6.5" fill="#fff" stroke="#2c2c2c" stroke-width="1.1"/>
<rect x="841.6" y="465.1" width="10.3" height="5.1" fill="#fff" stroke="#2c2c2c" stroke-width="1.1"/>
<rect x="201.7" y="188.3" width="10.3" height="24.7" fill="#000"/>
<rect x="281" y="188.3" width="19.4" height="29.2" fill="#000"/>
<rect x="433.2" y="188.3" width="19.0" height="31.7" fill="#000"/>
<rect x="556.4" y="199.9" width="22.0" height="20.3" fill="#000"/>
<rect x="711.3" y="125.7" width="73.1" height="10.7" fill="#000"/>
<rect x="773.8" y="125.7" width="10.6" height="52.5" fill="#000"/>
<rect x="750" y="282" width="34.5" height="20.5" fill="#000"/>
<rect x="750" y="292" width="47" height="10.5" fill="#000"/>
<rect x="841.8" y="292.1" width="10.0" height="10.4" fill="#000"/>
<rect x="439.5" y="260.2" width="4.9" height="13.8" fill="#000"/>
<rect x="130.7" y="436.2" width="18.6" height="30.4" fill="#000"/>
<rect x="199.8" y="428" width="28.1" height="18.6" fill="#000"/>
<rect x="281.7" y="421.4" width="18.7" height="25.2" fill="#000"/>
<rect x="337" y="470" width="113" height="11.3" fill="#000"/>
<rect x="337" y="470" width="11" height="109.6" fill="#000"/>
<rect x="537.6" y="470.2" width="31.9" height="10.6" fill="#000"/>
<rect x="750" y="462" width="46.8" height="22" fill="#000"/>
<rect x="750" y="470.2" width="101.9" height="13.8" fill="#000"/>
<rect x="841.6" y="470.2" width="10.3" height="37.9" fill="#000"/>
<rect x="188.5" y="562.4" width="23.3" height="17.3" fill="#000"/>
<text x="173" y="346.9" class="lb" text-anchor="start">H1:280</text>
<text x="173" y="355.15" class="lb" text-anchor="start">H2:300</text>
<text x="283" y="282.15" class="lb" text-anchor="start">MG:2320</text>
<text x="257" y="393.4" class="lb" text-anchor="start">MG:2320</text>
<text x="235.8" y="422.85" class="lb" text-anchor="start">H1:960</text>
<text x="235.8" y="431.65" class="lb" text-anchor="start">H2:1400</text>
<text x="102" y="524.15" class="lb" text-anchor="start">H1:300</text>
<text x="102" y="532.65" class="lb" text-anchor="start">H3:250</text>
<text x="309" y="479.05" class="lb" text-anchor="start">LX:430</text>
<text x="487.5" y="477.9" class="lb" text-anchor="start">MG:2100</text>
<text x="434.6" y="398.65" class="lb" text-anchor="start">LX:300</text>
<text x="472.25" y="302.75" class="lb" text-anchor="start">LX:300</text>
<text x="655" y="302.9" class="lb" text-anchor="start">LX:300</text>
<text x="553.75" y="392.15" class="lb" text-anchor="start">LX:350</text>
<text x="651.75" y="511.4" class="lb" text-anchor="start">LX:350</text>
<text x="583" y="481.4" class="lb" text-anchor="start">LX:480</text>
<text x="789.5" y="232.15" class="lb" text-anchor="start">H1:430</text>
<text x="789.5" y="240.9" class="lb" text-anchor="start">H2:1950</text>
<text x="789.5" y="249.65" class="lb" text-anchor="start">H3:380</text>
<text x="855" y="391.55" class="lb" text-anchor="start">H1:340</text>
<text x="855" y="400.15" class="lb" text-anchor="start">H3:280</text>
<text x="160.2" y="512.1" class="pm" text-anchor="start" textLength="7.2" lengthAdjust="spacingAndGlyphs">±</text>
<text x="169.6" y="512.4" class="lv" text-anchor="start" textLength="19.9" lengthAdjust="spacingAndGlyphs">2750</text>
<line x1="166.4" y1="513.8" x2="186.2" y2="513.8" stroke="#aaa" stroke-width="0.8"/>
<polygon points="156.2,513.8 166.2,513.8 161.1,520.6" fill="#000"/>
<text x="781.8" y="391.59999999999997" class="pm" text-anchor="start" textLength="7.2" lengthAdjust="spacingAndGlyphs">±</text>
<text x="791.2" y="391.9" class="lv" text-anchor="start" textLength="19.9" lengthAdjust="spacingAndGlyphs">2750</text>
<line x1="788.0" y1="393.3" x2="807.8" y2="393.3" stroke="#aaa" stroke-width="0.8"/>
<polygon points="777.8,393.3 787.8,393.3 782.7,400.1" fill="#000"/>
</svg>
</body></html>
